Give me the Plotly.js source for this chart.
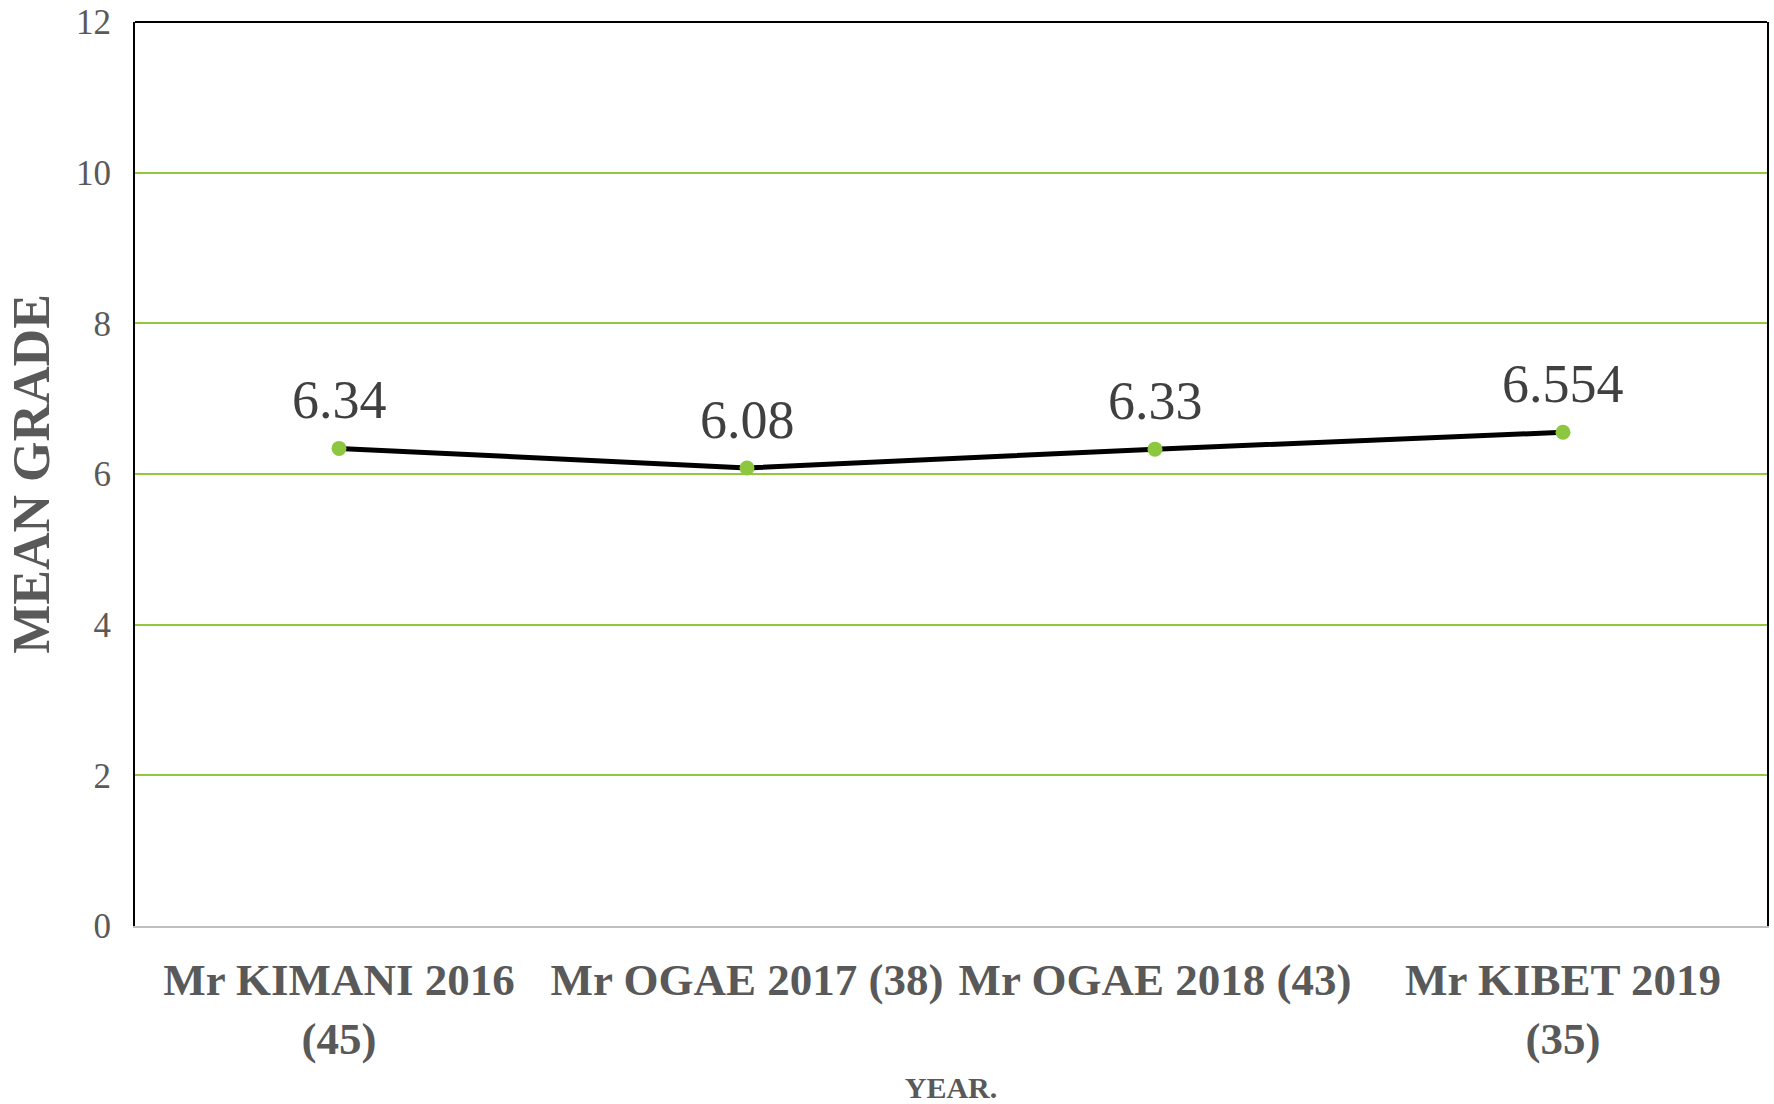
<!DOCTYPE html>
<html>
<head>
<meta charset="utf-8">
<script src="https://cdn.plot.ly/plotly-3.0.1.min.js"></script>
<style>html,body{margin:0;padding:0;background:#fff;}#chart{width:1774px;height:1104px;}</style>
</head>
<body>
<div id="chart"></div>
<script>
const categories = ["Mr KIMANI 2016 (45)", "Mr OGAE 2017 (38)", "Mr OGAE 2018 (43)", "Mr KIBET 2019 (35)"];
const tickLabels = ["Mr KIMANI 2016<br>(45)", "Mr OGAE 2017 (38)", "Mr OGAE 2018 (43)", "Mr KIBET 2019<br>(35)"];
const meanGrade = [6.34, 6.08, 6.33, 6.554];
const valueLabels = ["6.34", "6.08", "6.33", "6.554"];
const yTicks = [0, 2, 4, 6, 8, 10, 12];

const FONT = "'Liberation Serif', 'Times New Roman', serif";

const trace = {
  type: "scatter",
  mode: "lines+markers",
  x: categories,
  y: meanGrade,
  line: {color: "#000000", width: 5},
  marker: {color: "#8DC63F", size: 15},
  cliponaxis: false,
  hoverinfo: "x+y"
};

const labelAnnotations = categories.map((c, i) => ({
  x: c,
  y: meanGrade[i],
  xref: "x",
  yref: "y",
  text: valueLabels[i],
  showarrow: false,
  yanchor: "middle",
  xanchor: "center",
  yshift: 48,
  font: {family: FONT, size: 54, color: "#404040"}
}));

const layout = {
  width: 1774,
  height: 1104,
  margin: {l: 135, r: 7, t: 22, b: 178},
  paper_bgcolor: "#ffffff",
  plot_bgcolor: "#ffffff",
  showlegend: false,
  font: {family: FONT, color: "#595959"},
  xaxis: {
    type: "category",
    tickvals: categories,
    ticktext: tickLabels,
    range: [-0.5, 3.5],
    tickangle: 0,
    showgrid: false,
    zeroline: false,
    showline: true,
    linecolor: "#BFBFBF",
    linewidth: 2,
    ticks: "",
    ticklabelstandoff: 13,
    tickfont: {family: FONT, size: 45, color: "#595959", weight: "bold"},
    automargin: false,
    title: {text: "<b>YEAR.</b>", font: {family: FONT, size: 30, color: "#595959"}, standoff: 17}
  },
  yaxis: {
    range: [0, 12],
    tickvals: yTicks,
    showgrid: true,
    gridcolor: "#92C83E",
    gridwidth: 2,
    zeroline: false,
    showline: true,
    linecolor: "#000000",
    linewidth: 2,
    mirror: true,
    ticks: "",
    ticklabelstandoff: 15,
    tickfont: {family: FONT, size: 35, color: "#595959"},
    automargin: false,
    title: {text: "<b>MEAN GRADE</b>", font: {family: FONT, size: 52, color: "#595959"}, standoff: 10}
  },
  annotations: labelAnnotations,
  shapes: [
    {type: "line", xref: "paper", yref: "paper", x0: 0, x1: 1, y0: 1, y1: 1, line: {color: "#000000", width: 2}}
  ]
};

Plotly.newPlot("chart", [trace], layout, {displayModeBar: false, staticPlot: true});
</script>
</body>
</html>
